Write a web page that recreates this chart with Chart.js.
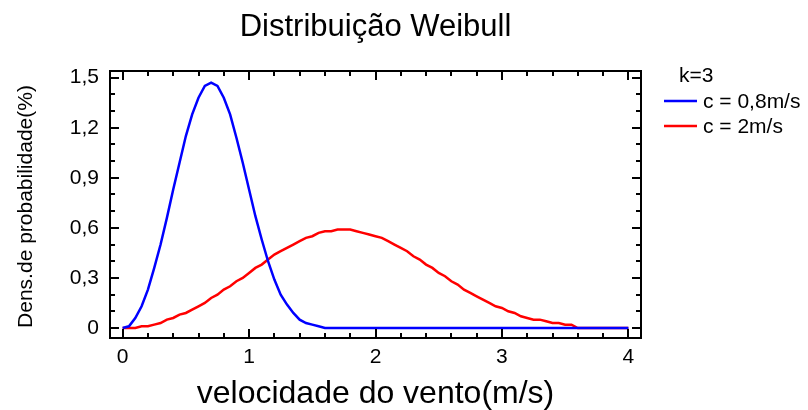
<!DOCTYPE html>
<html>
<head>
<meta charset="utf-8">
<script src="https://cdn.jsdelivr.net/npm/chart.js@4.4.0/dist/chart.umd.min.js"></script>
<style>
  html, body { margin: 0; padding: 0; background: #fff; }
</style>
</head>
<body>
<canvas id="weibullChart" width="808" height="410"></canvas>
<script>
// velocidade do vento (m/s)
const speeds = [0, 0.05, 0.1, 0.15, 0.2, 0.25, 0.3, 0.35, 0.4, 0.45, 0.5, 0.55, 0.6, 0.65, 0.7, 0.75, 0.8, 0.85, 0.9, 0.95,
  1, 1.05, 1.1, 1.15, 1.2, 1.25, 1.3, 1.35, 1.4, 1.45, 1.5, 1.55, 1.6, 1.65, 1.7, 1.75, 1.8, 1.85, 1.9, 1.95,
  2, 2.05, 2.1, 2.15, 2.2, 2.25, 2.3, 2.35, 2.4, 2.45, 2.5, 2.55, 2.6, 2.65, 2.7, 2.75, 2.8, 2.85, 2.9, 2.95,
  3, 3.05, 3.1, 3.15, 3.2, 3.25, 3.3, 3.35, 3.4, 3.45, 3.5, 3.55, 3.6, 3.65, 3.7, 3.75, 3.8, 3.85, 3.9, 3.95, 4];

// c = 0,8 m/s
const densC08 = [0, 0.01, 0.06, 0.13, 0.23, 0.36, 0.50, 0.66, 0.83, 0.99, 1.15, 1.28, 1.38, 1.45, 1.47, 1.45, 1.38, 1.28, 1.14, 0.99,
  0.83, 0.67, 0.53, 0.40, 0.29, 0.20, 0.14, 0.09, 0.05, 0.03, 0.02, 0.01, 0, 0, 0, 0, 0, 0, 0, 0,
  0, 0, 0, 0, 0, 0, 0, 0, 0, 0, 0, 0, 0, 0, 0, 0, 0, 0, 0, 0,
  0, 0, 0, 0, 0, 0, 0, 0, 0, 0, 0, 0, 0, 0, 0, 0, 0, 0, 0, 0, 0];

// c = 2 m/s
const densC2 = [0, 0, 0, 0.01, 0.01, 0.02, 0.03, 0.05, 0.06, 0.08, 0.09, 0.11, 0.13, 0.15, 0.18, 0.20, 0.23, 0.25, 0.28, 0.30,
  0.33, 0.36, 0.38, 0.41, 0.44, 0.46, 0.48, 0.50, 0.52, 0.54, 0.55, 0.57, 0.58, 0.58, 0.59, 0.59, 0.59, 0.58, 0.57, 0.56,
  0.55, 0.54, 0.52, 0.50, 0.48, 0.46, 0.43, 0.41, 0.38, 0.36, 0.33, 0.31, 0.28, 0.26, 0.23, 0.21, 0.19, 0.17, 0.15, 0.13,
  0.12, 0.10, 0.09, 0.07, 0.06, 0.05, 0.05, 0.04, 0.03, 0.03, 0.02, 0.02, 0, 0, 0, 0, 0, 0, 0, 0, 0];

const xMajor = [0, 1, 2, 3, 4];
const xLabels = ["0", "1", "2", "3", "4"];
const xMinorStep = 0.2;
const yMajor = [0, 0.3, 0.6, 0.9, 1.2, 1.5];
const yLabels = ["0", "0,3", "0,6", "0,9", "1,2", "1,5"];
const yMinorStep = 0.1;

const seriesNames = ["c = 0,8m/s", "c = 2m/s"];
const seriesColors = ["#0000ff", "#ff0000"];

const FONT = '"Liberation Sans", Arial, Helvetica, sans-serif';
Chart.defaults.font.family = FONT;
Chart.defaults.color = "#000";

// moldura com marcas para dentro nos quatro lados
const frameTicks = {
  id: "frameTicks",
  afterDatasetsDraw(chart) {
    const { ctx, chartArea: a, scales: { x, y } } = chart;
    ctx.save();
    ctx.strokeStyle = "#000";
    ctx.lineWidth = 2;

    const xTick = (v, len) => {
      const px = Math.round(x.getPixelForValue(v));
      ctx.beginPath();
      ctx.moveTo(px, a.bottom); ctx.lineTo(px, a.bottom - len);
      ctx.moveTo(px, a.top); ctx.lineTo(px, a.top + len);
      ctx.stroke();
    };
    const yTick = (v, len) => {
      const py = Math.round(y.getPixelForValue(v));
      ctx.beginPath();
      ctx.moveTo(a.left, py); ctx.lineTo(a.left + len, py);
      ctx.moveTo(a.right, py); ctx.lineTo(a.right - len, py);
      ctx.stroke();
    };

    for (let v = xMinorStep; v < xMajor[xMajor.length - 1]; v += xMinorStep) xTick(v, 5);
    xMajor.forEach(v => xTick(v, 9));
    for (let v = yMinorStep; v < yMajor[yMajor.length - 1]; v += yMinorStep) yTick(v, 5);
    yMajor.forEach(v => yTick(v, 9));

    ctx.strokeRect(a.left, a.top, a.right - a.left, a.bottom - a.top);
    ctx.restore();
  }
};

// títulos e legenda
const texts = {
  id: "texts",
  afterDraw(chart) {
    const { ctx, chartArea: a } = chart;
    const cx = (a.left + a.right) / 2;
    ctx.save();
    ctx.fillStyle = "#000";
    ctx.textAlign = "center";
    ctx.textBaseline = "alphabetic";
    ctx.font = "31px " + FONT;
    ctx.fillText("Distribuição Weibull", cx, 36);
    ctx.font = "32px " + FONT;
    ctx.fillText("velocidade do vento(m/s)", cx, 403);

    ctx.font = "21px " + FONT;
    ctx.save();
    ctx.translate(32, (a.top + a.bottom) / 2 + 2);
    ctx.rotate(-Math.PI / 2);
    ctx.fillText("Dens.de probabilidade(%)", 0, 0);
    ctx.restore();

    ctx.textAlign = "left";
    ctx.textBaseline = "middle";
    ctx.fillText("k=3", a.right + 38, 76);
    seriesNames.forEach((name, i) => {
      const ly = 101 + i * 25;
      ctx.strokeStyle = seriesColors[i];
      ctx.lineWidth = 2.5;
      ctx.beginPath();
      ctx.moveTo(a.right + 23, ly);
      ctx.lineTo(a.right + 56, ly);
      ctx.stroke();
      ctx.fillText(name, a.right + 62, ly + 1);
    });
    ctx.restore();
  }
};

const makePoints = vals => speeds.map((v, i) => ({ x: v, y: vals[i] }));

new Chart(document.getElementById("weibullChart"), {
  type: "line",
  data: {
    datasets: [
      { label: seriesNames[0], data: makePoints(densC08), borderColor: seriesColors[0], borderWidth: 2.5, pointRadius: 0, tension: 0, fill: false },
      { label: seriesNames[1], data: makePoints(densC2), borderColor: seriesColors[1], borderWidth: 2.5, pointRadius: 0, tension: 0, fill: false }
    ]
  },
  options: {
    responsive: false,
    animation: false,
    layout: { padding: { top: 71, right: 167, left: 0, bottom: 0 } },
    plugins: { legend: { display: false }, title: { display: false }, tooltip: { enabled: false } },
    scales: {
      x: {
        type: "linear",
        min: -0.1,
        max: 4.1,
        afterBuildTicks: s => { s.ticks = xMajor.map(v => ({ value: v })); },
        afterFit: s => { s.height = 72; },
        grid: { display: false, drawTicks: false },
        border: { display: false },
        ticks: { font: { size: 21 }, color: "#000", padding: 7, maxRotation: 0, autoSkip: false,
          callback: (v, i) => xLabels[i] }
      },
      y: {
        type: "linear",
        min: -0.06,
        max: 1.54,
        afterBuildTicks: s => { s.ticks = yMajor.map(v => ({ value: v })); },
        afterFit: s => { s.width = 110; },
        grid: { display: false, drawTicks: false },
        border: { display: false },
        ticks: { font: { size: 21 }, color: "#000", padding: 11, autoSkip: false,
          callback: (v, i) => yLabels[i] }
      }
    }
  },
  plugins: [frameTicks, texts]
});
</script>
</body>
</html>
